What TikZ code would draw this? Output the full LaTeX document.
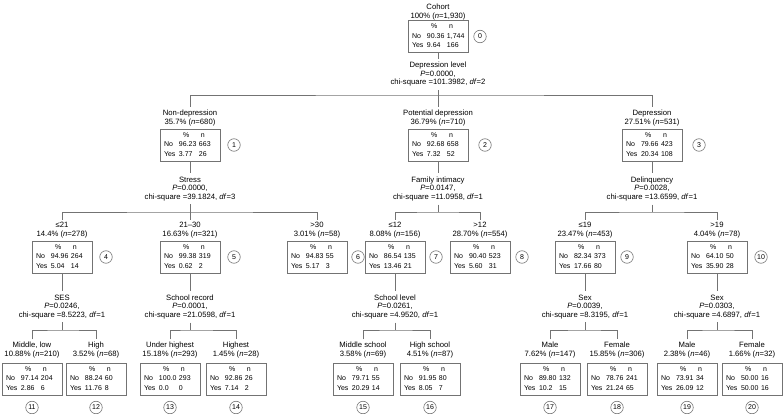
\documentclass[tikz,border=0pt]{standalone}
\usepackage{fontspec}
\setmainfont{Liberation Sans}
\usepackage{array}
\definecolor{lc}{gray}{0.45}
\newcommand{\tb}[4]{{\fontsize{7}{8.6}\selectfont\setlength{\tabcolsep}{0pt}\renewcommand{\arraystretch}{1.1}\begin{tabular}{@{}p{15pt}p{20pt}p{17pt}@{}}&\hspace{4pt}\%&\hspace{2pt}n\\No&#1&#2\\Yes&#3&#4\end{tabular}}}
\newcommand{\pc}[3]{#1\\#2\% (\textit{n}=#3)}
\newcommand{\splt}[4]{#1\\\textit{P}=#2,\\chi-square =#3, \textit{df}=#4}
\begin{document}
\begin{tikzpicture}[x=1pt,y=-1pt,
  every node/.style={font=\fontsize{7.7}{9.2}\selectfont, text=black},
  lab/.style={align=center, inner xsep=1pt, inner ysep=2.5pt},
  spl/.style={align=center, inner xsep=1pt, inner ysep=3.5pt, font=\fontsize{7.7}{8.5}\selectfont},
  tbox/.style={draw=lc, line width=0.6pt, minimum width=60pt, minimum height=32pt, inner sep=0pt},
  num/.style={circle, draw=lc, line width=0.6pt, minimum size=12.5pt, inner sep=0pt, font=\fontsize{7}{8}\selectfont},
  conn/.style={draw=lc, line width=0.6pt}]
\useasboundingbox (0,0) rectangle (784,414);
% level 0
\node[lab] (l0) at (438,11.8) {\pc{Cohort}{100}{1,930}};
\node[tbox] (b0) at (438,36.5) {\tb{90.36}{1,744}{9.64}{166}};
\node[num] (c0) at (480,36.5) {0};
\node[spl] (s0) at (438,74.5) {\splt{Depression level}{0.0000}{101.3982}{2}};
\coordinate (h0) at (438,95);
% level 1
\node[lab] (l1) at (190,117.8) {\pc{Non-depression}{35.7}{680}};
\node[lab] (l2) at (438,117.8) {\pc{Potential depression}{36.79}{710}};
\node[lab] (l3) at (652,117.8) {\pc{Depression}{27.51}{531}};
\node[tbox] (b1) at (190,145) {\tb{96.23}{663}{3.77}{26}};
\node[tbox] (b2) at (438,145) {\tb{92.68}{658}{7.32}{52}};
\node[tbox] (b3) at (652,145) {\tb{79.66}{423}{20.34}{108}};
\node[num] (c1) at (234,145) {1};
\node[num] (c2) at (485,145) {2};
\node[num] (c3) at (699,145) {3};
\node[spl] (s1) at (190,188.8) {\splt{Stress}{0.0000}{39.1824}{3}};
\node[spl] (s2) at (438,188.8) {\splt{Family intimacy}{0.0147}{11.0958}{1}};
\node[spl] (s3) at (652,188.8) {\splt{Delinquency}{0.0028}{13.6599}{1}};
\coordinate (h1) at (190,212);
\coordinate (h2) at (438,212);
\coordinate (h3) at (652,212);
% level 2
\node[lab] (l4) at (62,230.3) {\pc{≤21}{14.4}{278}};
\node[lab] (l5) at (190,230.3) {\pc{21–30}{16.63}{321}};
\node[lab] (l6) at (317,230.3) {\pc{>30}{3.01}{58}};
\node[lab] (l7) at (395,230.3) {\pc{≤12}{8.08}{156}};
\node[lab] (l8) at (480,230.3) {\pc{>12}{28.70}{554}};
\node[lab] (l9) at (585,230.3) {\pc{≤19}{23.47}{453}};
\node[lab] (l10) at (717,230.3) {\pc{>19}{4.04}{78}};
\node[tbox] (b4) at (62,257) {\tb{94.96}{264}{5.04}{14}};
\node[tbox] (b5) at (190,257) {\tb{99.38}{319}{0.62}{2}};
\node[tbox] (b6) at (317,257) {\tb{94.83}{55}{5.17}{3}};
\node[tbox] (b7) at (395,257) {\tb{86.54}{135}{13.46}{21}};
\node[tbox] (b8) at (480,257) {\tb{90.40}{523}{5.60}{31}};
\node[tbox] (b9) at (585,257) {\tb{82.34}{373}{17.66}{80}};
\node[tbox] (b10) at (717,257) {\tb{64.10}{50}{35.90}{28}};
\node[num] (c4) at (106,257) {4};
\node[num] (c5) at (234,257) {5};
\node[num] (c6) at (358,257) {6};
\node[num] (c7) at (436,257) {7};
\node[num] (c8) at (522,257) {8};
\node[num] (c9) at (627,257) {9};
\node[num] (c10) at (761,257) {10};
\node[spl] (s4) at (62,306.8) {\splt{SES}{0.0246}{8.5223}{1}};
\node[spl] (s5) at (190,306.8) {\splt{School record}{0.0001}{21.0598}{1}};
\node[spl] (s7) at (395,306.8) {\splt{School level}{0.0261}{4.9520}{1}};
\node[spl] (s9) at (585,306.8) {\splt{Sex}{0.0039}{8.3195}{1}};
\node[spl] (s10) at (717,306.8) {\splt{Sex}{0.0303}{4.6897}{1}};
\coordinate (h4) at (62,330);
\coordinate (h5) at (190,330);
\coordinate (h7) at (395,330);
\coordinate (h9) at (585,330);
\coordinate (h10) at (717,330);
% level 3
\node[lab] (l11) at (32,350.3) {\pc{Middle, low}{10.88}{210}};
\node[lab] (l12) at (96,350.3) {\pc{High}{3.52}{68}};
\node[lab] (l13) at (170,350.3) {\pc{Under highest}{15.18}{293}};
\node[lab] (l14) at (236,350.3) {\pc{Highest}{1.45}{28}};
\node[lab] (l15) at (363,350.3) {\pc{Middle school}{3.58}{69}};
\node[lab] (l16) at (430,350.3) {\pc{High school}{4.51}{87}};
\node[lab] (l17) at (550,350.3) {\pc{Male}{7.62}{147}};
\node[lab] (l18) at (617,350.3) {\pc{Female}{15.85}{306}};
\node[lab] (l19) at (687,350.3) {\pc{Male}{2.38}{46}};
\node[lab] (l20) at (752,350.3) {\pc{Female}{1.66}{32}};
\node[tbox] (b11) at (32,379) {\tb{97.14}{204}{2.86}{6}};
\node[tbox] (b12) at (96,379) {\tb{88.24}{60}{11.76}{8}};
\node[tbox] (b13) at (170,379) {\tb{100.0}{293}{0.0}{0}};
\node[tbox] (b14) at (236,379) {\tb{92.86}{26}{7.14}{2}};
\node[tbox] (b15) at (363,379) {\tb{79.71}{55}{20.29}{14}};
\node[tbox] (b16) at (430,379) {\tb{91.95}{80}{8.05}{7}};
\node[tbox] (b17) at (550,379) {\tb{89.80}{132}{10.2}{15}};
\node[tbox] (b18) at (617,379) {\tb{78.76}{241}{21.24}{65}};
\node[tbox] (b19) at (687,379) {\tb{73.91}{34}{26.09}{12}};
\node[tbox] (b20) at (752,379) {\tb{50.00}{16}{50.00}{16}};
\node[num] (c11) at (32,407.5) {11};
\node[num] (c12) at (96,407.5) {12};
\node[num] (c13) at (170,407.5) {13};
\node[num] (c14) at (236,407.5) {14};
\node[num] (c15) at (363,407.5) {15};
\node[num] (c16) at (430,407.5) {16};
\node[num] (c17) at (550,407.5) {17};
\node[num] (c18) at (617,407.5) {18};
\node[num] (c19) at (687,407.5) {19};
\node[num] (c20) at (752,407.5) {20};
% connectors
\draw[conn] (b0) -- (s0);
\draw[conn] (s0) -- (h0);
\draw[conn] (l1) |- (h0) -| (l3);
\draw[conn] (h0) -- (l2);
\foreach \i in {1,2,3} {\draw[conn] (b\i) -- (s\i); \draw[conn] (s\i) -- (h\i);}
\draw[conn] (l4) |- (h1) -| (l6);
\draw[conn] (h1) -- (l5);
\draw[conn] (l7) |- (h2) -| (l8);
\draw[conn] (l9) |- (h3) -| (l10);
\foreach \i in {4,5,7,9,10} {\draw[conn] (b\i) -- (s\i); \draw[conn] (s\i) -- (h\i);}
\draw[conn] (l11) |- (h4) -| (l12);
\draw[conn] (l13) |- (h5) -| (l14);
\draw[conn] (l15) |- (h7) -| (l16);
\draw[conn] (l17) |- (h9) -| (l18);
\draw[conn] (l19) |- (h10) -| (l20);
\end{tikzpicture}
\end{document}
